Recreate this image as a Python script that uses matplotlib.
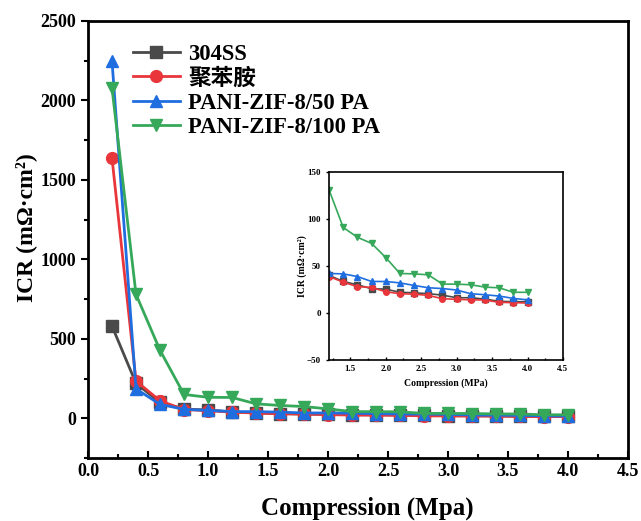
import numpy as np
import matplotlib.pyplot as plt
from matplotlib.ticker import MultipleLocator

plt.rcParams['font.family'] = ['Liberation Serif', 'Noto Sans CJK SC']
plt.rcParams['font.weight'] = 'bold'

# compression (MPa)
pressure = [0.2, 0.4, 0.6, 0.8, 1.0, 1.2, 1.4, 1.6, 1.8, 2.0,
            2.2, 2.4, 2.6, 2.8, 3.0, 3.2, 3.4, 3.6, 3.8, 4.0]

# ICR values (mOhm cm2)
icr_304ss = [580, 220, 100, 58, 52, 40, 33.5, 30, 25.8, 25.4,
             22, 21.5, 20.5, 19, 16.2, 16.2, 14.8, 12.4, 12, 12]
icr_pani = [1637, 235, 110, 55, 48, 38.8, 32.8, 28, 27.2, 22.6,
            20.5, 20, 18.7, 15.2, 14.5, 14, 13.8, 11.3, 11, 10.6]
icr_50pa = [2248, 185, 88, 56, 50, 42, 41.6, 38.8, 33.5, 33.5,
            32, 29.3, 26.8, 26, 24.4, 20.5, 19.4, 18, 15.5, 14]
icr_100pa = [2078, 780, 428, 150, 132, 131, 91, 80.5, 74, 59,
             42, 41.6, 40.6, 30.7, 30.7, 30, 27.5, 26.8, 22, 22]

labels = ['304SS', '聚苯胺', 'PANI-ZIF-8/50 PA', 'PANI-ZIF-8/100 PA']
series = [icr_304ss, icr_pani, icr_50pa, icr_100pa]
colors = ['#4a4a4a', '#e8363b', '#1f6ee0', '#36a85a']
markers = ['s', 'o', '^', 'v']

fig = plt.figure(figsize=(6.41, 5.21), dpi=100)
ax = fig.add_axes([0.1373, 0.1209, 0.8424, 0.8388])

for y, c, m, lab in zip(series, colors, markers, labels):
    ax.plot(pressure, y, color=c, marker=m, markersize=8.5, linewidth=2, label=lab)

ax.set_xlim(0, 4.5)
ax.set_ylim(-250, 2500)
ax.xaxis.set_major_locator(MultipleLocator(0.5))
ax.xaxis.set_minor_locator(MultipleLocator(0.25))
ax.yaxis.set_major_locator(MultipleLocator(500))
ax.yaxis.set_minor_locator(MultipleLocator(250))
ax.tick_params(axis='x', which='both', direction='in')
ax.tick_params(axis='y', which='both', direction='out')
ax.tick_params(which='both', width=1.5, labelsize=13)
ax.tick_params(which='major', length=5)
ax.tick_params(which='minor', length=3)
for s in ax.spines.values():
    s.set_linewidth(2)
for t in ax.get_xticklabels() + ax.get_yticklabels():
    t.set_fontweight('bold')
ax.set_xlabel('Compression (Mpa)', fontsize=18, fontweight='bold')
ax.xaxis.set_label_coords(0.518, -0.088)
ax.set_ylabel('ICR (mΩ·cm²)', fontsize=17, fontweight='bold')
ax.yaxis.set_label_coords(-0.095, 0.527)

leg = ax.legend(loc='upper left', bbox_to_anchor=(0.045, 0.995), frameon=False,
                handlelength=2.1, handletextpad=0.35, labelspacing=0.15,
                prop={'family': ['Liberation Serif', 'Noto Sans CJK SC'],
                      'weight': 'bold', 'size': 16.3})

# inset
axin = fig.add_axes([0.5133, 0.309, 0.365, 0.361])
for y, c, m in zip(series, colors, markers):
    axin.plot(pressure[5:], y[5:], color=c, marker=m, markersize=4, linewidth=1.2)
axin.set_xlim(1.2, 4.5)
axin.set_ylim(-50, 150)
axin.xaxis.set_major_locator(MultipleLocator(0.5))
axin.xaxis.set_minor_locator(MultipleLocator(0.25))
axin.yaxis.set_major_locator(MultipleLocator(50))
axin.tick_params(axis='x', which='both', direction='in')
axin.tick_params(axis='y', which='both', direction='out')
axin.tick_params(which='both', width=1, labelsize=6.5)
axin.tick_params(which='major', length=2.5)
axin.tick_params(which='minor', length=1.5)
for s in axin.spines.values():
    s.set_linewidth(1.2)
for t in axin.get_xticklabels() + axin.get_yticklabels():
    t.set_fontweight('bold')
axin.set_xlabel('Compression (MPa)', fontsize=7, fontweight='bold')
axin.set_ylabel('ICR (mΩ·cm²)', fontsize=7, fontweight='bold', labelpad=0)

fig.savefig('out.png', dpi=100)
